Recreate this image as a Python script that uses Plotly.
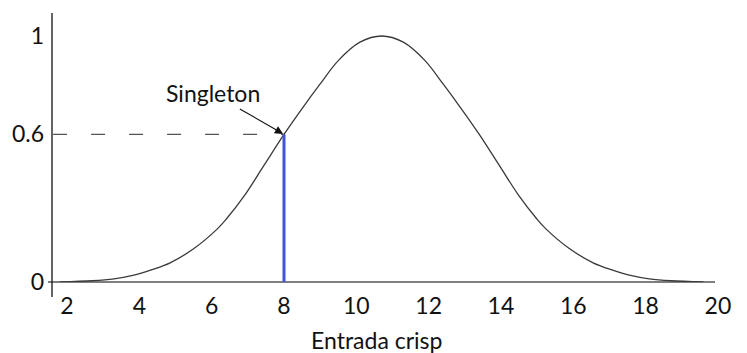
import plotly.graph_objects as go

# Membership function samples (crisp input -> membership degree)
curve_x = [1.80, 2.70, 3.30, 3.85, 4.35, 4.85, 5.50, 6.15, 6.40, 6.90, 7.45, 8.00,
           8.50, 9.00, 9.50, 10.10, 10.70, 11.30, 11.90, 12.40, 12.90, 13.40,
           13.95, 14.50, 15.00, 15.25, 15.90, 16.55, 17.05, 17.55, 18.10, 18.70, 19.60]
curve_mu = [0.0, 0.005, 0.013, 0.028, 0.05, 0.078, 0.135, 0.215, 0.255, 0.35, 0.475, 0.6,
            0.705, 0.805, 0.90, 0.975, 1.0, 0.975, 0.90, 0.805, 0.705, 0.60,
            0.475, 0.35, 0.255, 0.215, 0.135, 0.078, 0.05, 0.028, 0.013, 0.005, 0.0]

# Singleton crisp input and its membership degree
singleton_x = 8
singleton_mu = 0.6

x_ticks = [2, 4, 6, 8, 10, 12, 14, 16, 18, 20]
y_ticks = [0, 0.6, 1]
y_tick_text = ["0", "0.6", "1"]

X_LEFT = 1.584
X_RIGHT = 20.611
Y_TOP = 1.1057

FONT = "Lato"

fig = go.Figure()

# bell-shaped membership curve
fig.add_trace(go.Scatter(
    x=curve_x, y=curve_mu, mode="lines",
    line=dict(color="#3a3a3a", width=1.3, shape="spline", smoothing=1.0),
    showlegend=False,
))

# singleton input
fig.add_trace(go.Scatter(
    x=[singleton_x, singleton_x], y=[0, singleton_mu], mode="lines",
    line=dict(color="#4152DB", width=3),
    showlegend=False,
))

W = 747 - 52 - 7
H = 353 - 10 - 71

# dashed guide from the y axis to the singleton point
fig.add_shape(type="line", xref="x", yref="y",
              x0=X_LEFT + 0.03, x1=singleton_x, y0=singleton_mu, y1=singleton_mu,
              line=dict(color="#555555", width=1.4, dash="14px,24px"),
              layer="above")

# axis lines
fig.add_shape(type="line", xref="paper", yref="paper",
              x0=-4 / W, x1=(715 - 52) / W, y0=0, y1=0,
              line=dict(color="#7f7f7f", width=2.2), layer="below")
fig.add_shape(type="line", xref="paper", yref="paper",
              x0=0, x1=0, y0=(282 - 297) / H, y1=(282 - 13) / H,
              line=dict(color="#111111", width=1.3))

fig.add_annotation(
    x=singleton_x, y=singleton_mu, xref="x", yref="y",
    text="Singleton", showarrow=True, ax=-71, ay=-41,
    arrowhead=2, arrowsize=1.5, arrowwidth=1.1, arrowcolor="#111111",
    standoff=1, font=dict(family=FONT, size=23, color="#111111"),
)

fig.add_annotation(
    x=(376.7 - 52) / W, y=(282 - 340) / H, xref="paper", yref="paper",
    text="Entrada crisp", showarrow=False, yanchor="middle",
    font=dict(family=FONT, size=23, color="#111111"),
)

fig.update_layout(
    width=747, height=353,
    margin=dict(l=52, r=7, t=10, b=71),
    paper_bgcolor="white", plot_bgcolor="white",
    font=dict(family=FONT, size=23, color="#111111"),
    xaxis=dict(range=[X_LEFT, X_RIGHT], tickvals=x_ticks, ticks="",
               showgrid=False, zeroline=False, showline=False,
               ticklabelstandoff=8),
    yaxis=dict(range=[0, Y_TOP], tickvals=y_ticks, ticktext=y_tick_text,
               ticks="", showgrid=False, zeroline=False, showline=False,
               ticklabelstandoff=7),
)

fig.write_html("out.html")
